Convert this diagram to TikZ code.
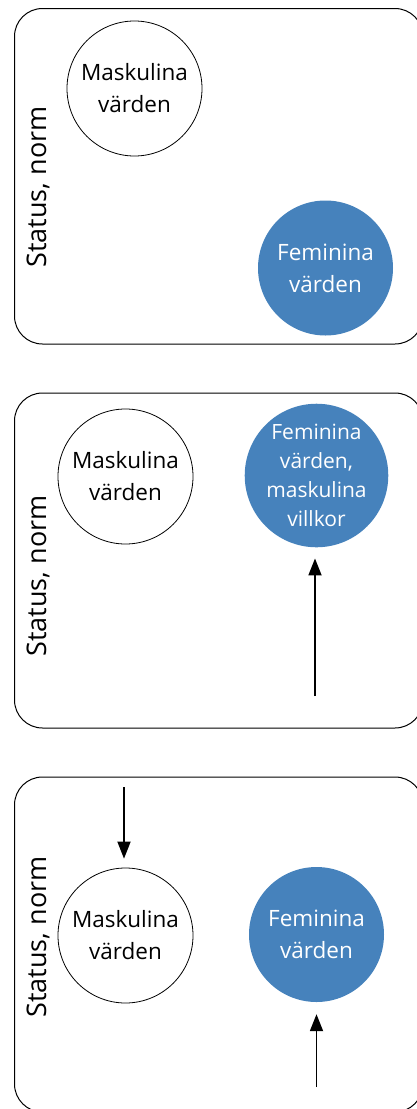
\documentclass[tikz,border=0pt]{standalone}
\usepackage{fontspec}
\setmainfont{Open Sans}
\usetikzlibrary{arrows.meta}
\definecolor{femblue}{RGB}{70,130,188}

\tikzset{
    panel/.style={draw, line width=1pt, rounded corners=28pt},
    val/.style={circle, minimum size=135pt, inner sep=0pt, align=center,
	font=\fontsize{22.5}{32}\selectfont},
    masc/.style={val, draw, line width=0.8pt},
    fem/.style={val, fill=femblue, text=white},
    axislabel/.style={rotate=90, font=\fontsize{27}{32}\selectfont},
    push/.style={-{Triangle[width=13pt, length=17pt]}, line width=1.8pt},
}

\begin{document}
\begin{tikzpicture}[x=1pt, y=-1pt]
    \useasboundingbox (0, 0) rectangle (416, 1109);

    % first panel
    \draw[panel] (14.5, 8.5) rectangle (423, 344);
    \node[axislabel] (status1) at (38, 187) {Status, norm};
    \node[masc] (masc1) at (134.5, 88.5) {Maskulina\\värden};
    \node[fem] (fem1) at (325.5, 268) {Feminina\\värden};

    % second panel
    \draw[panel] (14.5, 393) rectangle (423, 728);
    \node[axislabel] (status2) at (38, 576) {Status, norm};
    \node[masc] (masc2) at (125.5, 476.5) {Maskulina\\värden};
    \node[fem, font=\fontsize{21}{29}\selectfont] (fem2) at (316.5, 475.5)
	{Feminina\\värden,\\maskulina\\villkor};
    \coordinate (rise2) at (315, 696);
    \draw[push, shorten >=11pt] (rise2) -- (rise2 |- fem2.south);

    % third panel
    \draw[panel] (14.5, 777) rectangle (423, 1112);
    \node[axislabel] (status3) at (38, 937) {Status, norm};
    \node[masc] (masc3) at (125.5, 935.5) {Maskulina\\värden};
    \node[fem] (fem3) at (316.5, 934.5) {Feminina\\värden};
    \coordinate (drop3) at (124, 787);
    \draw[push, shorten >=9pt] (drop3) -- (drop3 |- masc3.north);
    \coordinate (rise3) at (316.5, 1087);
    \draw[push, shorten >=12pt] (rise3) -- (rise3 |- fem3.south);
\end{tikzpicture}
\end{document}
